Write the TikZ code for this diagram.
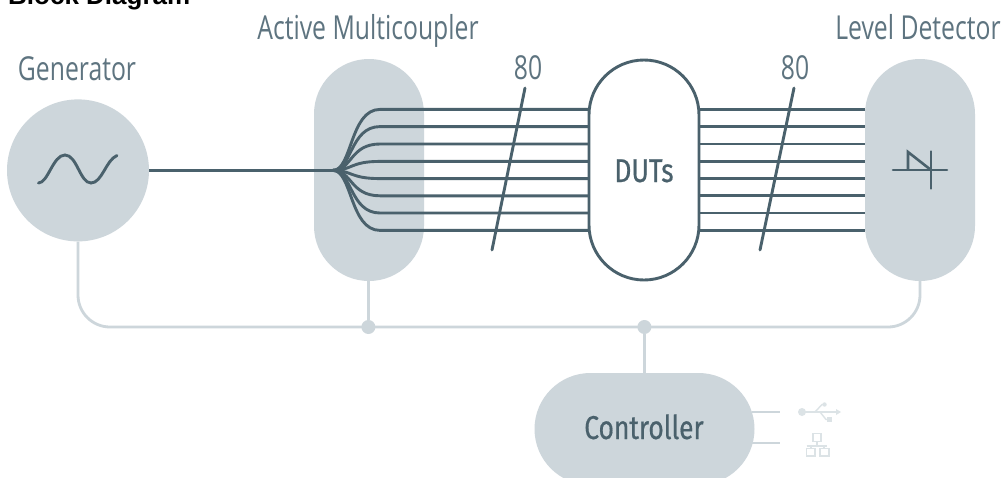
\documentclass[tikz,border=0pt]{standalone}
\usepackage{fontspec}
\setmainfont{Open Sans}
\newfontfamily\lightfont[FakeStretch=0.75]{Open Sans}
\newfontfamily\medfont[FakeStretch=0.8,FakeBold=0.5]{Fira Sans}
\newfontfamily\titlefont{Liberation Sans}[BoldFont={Liberation Sans Bold}]
\definecolor{pale}{HTML}{CDD6DB}
\definecolor{ink}{HTML}{4A616C}
\definecolor{labelc}{HTML}{5E7480}
\definecolor{iconc}{HTML}{DCE3E6}
\tikzset{
  x=1pt,y=-1pt,
  pill/.style={draw=none,fill=pale,rectangle,rounded corners=55pt,inner sep=0pt,minimum width=#1,minimum height=222pt},
  sig/.style={draw=ink,line width=2.9pt},
  bus/.style={draw=pale,line width=2.8pt},
  dot/.style={circle,fill=pale,inner sep=0pt,minimum size=14pt},
  lbl/.style={font=\lightfont\fontsize{33}{35}\selectfont,text=labelc,inner sep=0pt,anchor=base},
  strong/.style={font=\medfont\fontsize{33}{35}\selectfont,text=ink,inner sep=0pt,anchor=base},
  stub/.style={draw=pale,line width=2.8pt},
  icon/.style={draw=iconc,line width=1.4pt},
}
\begin{document}
\begin{tikzpicture}
\useasboundingbox (0,0) rectangle (1004,477);
\fill[white] (0,0) rectangle (1004,477);
\node[font=\titlefont\bfseries\fontsize{26}{28}\selectfont,anchor=base west,inner sep=0pt] (title) at (8,4) {Block Diagram};

\node[circle,fill=pale,minimum size=142pt,inner sep=0pt] (gen) at (78,170.4) {};
\node[pill=110pt] (coupler) at (369,170) {};
\node[pill=220pt,minimum height=112pt,rounded corners=56pt] (ctrl) at (644.5,429) {};
\node[pill=110pt] (det) at (920,170) {};

\node[lbl] (genl) at (77,80) {Generator};
\node[lbl] (coupl) at (368,39) {Active Multicoupler};
\node[lbl] (detl) at (918,39) {Level Detector};
\node[lbl] (n1) at (528,79) {80};
\node[lbl] (n2) at (795,79) {80};

% fan-out
\coordinate (fan) at (333,170.4);
\foreach \i/\y in {1/109.4,2/126.6,3/144,4/161.4,5/178.6,6/195.8,7/213,8/230.4}{
  \coordinate (a\i) at (380,\y);
  \coordinate (b\i) at (588,\y);
  \coordinate (c\i) at (700,\y);
  \coordinate (d\i) at (865,\y);
  \draw[sig] (fan) .. controls (352,170.4) and (350,\y) .. (a\i) -- (b\i);
  \draw[sig] (c\i) -- (d\i);
}
\draw[sig] (gen.east) -- (fan);

\node[draw=ink,line width=2.9pt,fill=white,rectangle,rounded corners=55pt,inner sep=0pt,minimum width=110pt,minimum height=220pt] (dut) at (644,170) {};
\node[strong] (dutl) at (644,182) {DUTs};
\node[strong] (ctrll) at (644,439) {Controller};

% slashes
\coordinate (s1t) at (525,88); \coordinate (s1b) at (492,250);
\coordinate (s2t) at (794,88); \coordinate (s2b) at (760,250);
\draw[sig,line cap=round] (s1t) -- (s1b);
\draw[sig,line cap=round] (s2t) -- (s2b);

% bus
\node[dot] (j1) at (368.4,327) {};
\node[dot] (j2) at (644.4,327) {};
\draw[bus,rounded corners=32pt] (gen.south) -- (78,327) -- (j1.center) -- (j2.center) -- (920,327) -- (det.south);
\draw[bus] (j1.center |- coupler.south) -- (j1);
\draw[bus] (j2) -- (ctrl.north -| j2);

% controller stubs
\coordinate (st1) at (780,412); \coordinate (st2) at (780,443);
\draw[stub] (ctrl.east |- st1) ++(-3,0) -- (st1);
\draw[stub] (ctrl.east |- st2) ++(-3,0) -- (st2);

% sine
\draw[ink,line width=2.9pt,line cap=round] (38.5,183) .. controls (48,183) and (53,155) .. (65,155)
  .. controls (77,155) and (80,183) .. (91,183) .. controls (102,183) and (106,160) .. (117,155.5);

% detector symbol
\draw[ink,line width=2.6pt,line cap=round,line join=miter] (893,170) -- (947,170) (931,151.5) -- (931,188.5);
\draw[ink,line width=2.6pt,line join=miter] (908,170) -- (908,152) -- (931,170);

% USB icon
\fill[iconc] (802,412) circle (4pt);
\draw[icon] (802,412) -- (840,412);
\fill[iconc] (841,412) -- (836,409) -- (836,415) -- cycle;
\draw[icon] (815,412) -- (822,404.5) -- (826,404.5);
\fill[iconc] (824.5,404.5) circle (2.2pt);
\draw[icon] (820,412) -- (826,419.5) -- (828,419.5);
\fill[iconc] (827,417) rectangle (832,422);

% network icon
\draw[icon] (813,433.5) rectangle (821,441.5);
\draw[icon] (817,441.5) -- (817,446) (806.5,446) -- (827,446) (811,446) -- (811,448.5) (824,446) -- (824,448.5);
\draw[icon] (806.5,448.5) rectangle (815,456);
\draw[icon] (820,448.5) rectangle (829,456);
\end{tikzpicture}
\end{document}
